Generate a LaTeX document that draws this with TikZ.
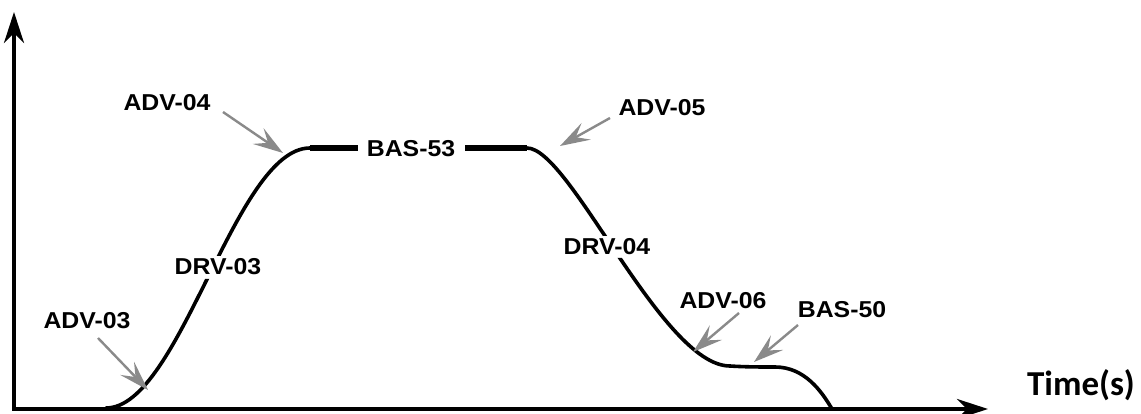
\documentclass[tikz,border=0pt]{standalone}
\usepackage{fontspec}
\setmainfont{Liberation Sans}
\newfontfamily\timefont{Carlito}
\usetikzlibrary{arrows.meta}
\definecolor{arrgray}{HTML}{8A8A8A}
\newcommand{\lab}[1]{\scalebox{1.08}[1]{\bfseries\fontsize{23}{26}\selectfont #1}}
\tikzset{
  axis/.style={line width=4pt, -{Stealth[length=31pt,width=20pt,inset=10pt]}},
  curve/.style={line width=3.6pt, line cap=round},
  plateau/.style={line width=5.2pt},
  pointer/.style={draw=arrgray, line width=2.4pt, -{Stealth[length=30pt,width=19pt,inset=12pt]}},
  lbl/.style={inner sep=0pt, anchor=center}
}
\begin{document}
\begin{tikzpicture}[x=1pt,y=-1pt]
\useasboundingbox (0,0) rectangle (1141,414);
% axes
\coordinate (O) at (14,409);
\coordinate (Ytop) at (14,12);
\coordinate (Xend) at (988,409);
\coordinate (O2) at (12,409);
\draw[axis] (O) -- (Ytop);
\draw[axis] (O2) -- (Xend);
% labels
\node[lbl] (adv03) at (87,321) {\lab{ADV-03}};
\node[lbl] (adv04) at (167,103) {\lab{ADV-04}};
\node[lbl] (drv03) at (218,267) {\lab{DRV-03}};
\node[lbl] (bas53) at (411,149) {\lab{BAS-53}};
\node[lbl] (adv05) at (662,108) {\lab{ADV-05}};
\node[lbl] (drv04) at (607,247) {\lab{DRV-04}};
\node[lbl] (adv06) at (723,301) {\lab{ADV-06}};
\node[lbl] (bas50) at (842,310) {\lab{BAS-50}};
\node[lbl] (time) at (1081,385) {\timefont\bfseries\fontsize{35}{40}\selectfont Time(s)};
% curve points
\coordinate (c0) at (106,408);
\coordinate (c1) at (310,148);
\coordinate (p1) at (358,148);
\coordinate (p2) at (465,148);
\coordinate (c2) at (527,148);
\coordinate (c3) at (730,366);
\coordinate (c4) at (775,367);
\coordinate (c5) at (832,409);
\begin{scope}
  \begin{pgfinterruptboundingbox}
  \clip (0,0) -| (1141,414) -| (0,0)
        (170,256) rectangle (266,279)
        (560,236) rectangle (654,258);
  \end{pgfinterruptboundingbox}
  \draw[curve] (c0) .. controls (180,408) and (235,148) .. (c1);
  \draw[curve] (c2) .. controls (570,148) and (662,366) .. (c3)
               .. controls (745,367) and (760,367) .. (c4)
               .. controls (805,367) and (822,392) .. (c5);
\end{scope}
\draw[plateau] (c1) -- (p1);
\draw[plateau] (p2) -- (c2);
% pointer arrows
\coordinate (t03) at (148,390);
\coordinate (t04) at (283,153);
\coordinate (t05) at (560,146);
\coordinate (t06) at (693,352);
\coordinate (t50) at (754,362);
\draw[pointer] (98,338) -- (t03);
\draw[pointer] (223,112) -- (t04);
\draw[pointer] (610,118) -- (t05);
\draw[pointer] (739,313) -- (t06);
\draw[pointer] (798,325) -- (t50);
\end{tikzpicture}
\end{document}
